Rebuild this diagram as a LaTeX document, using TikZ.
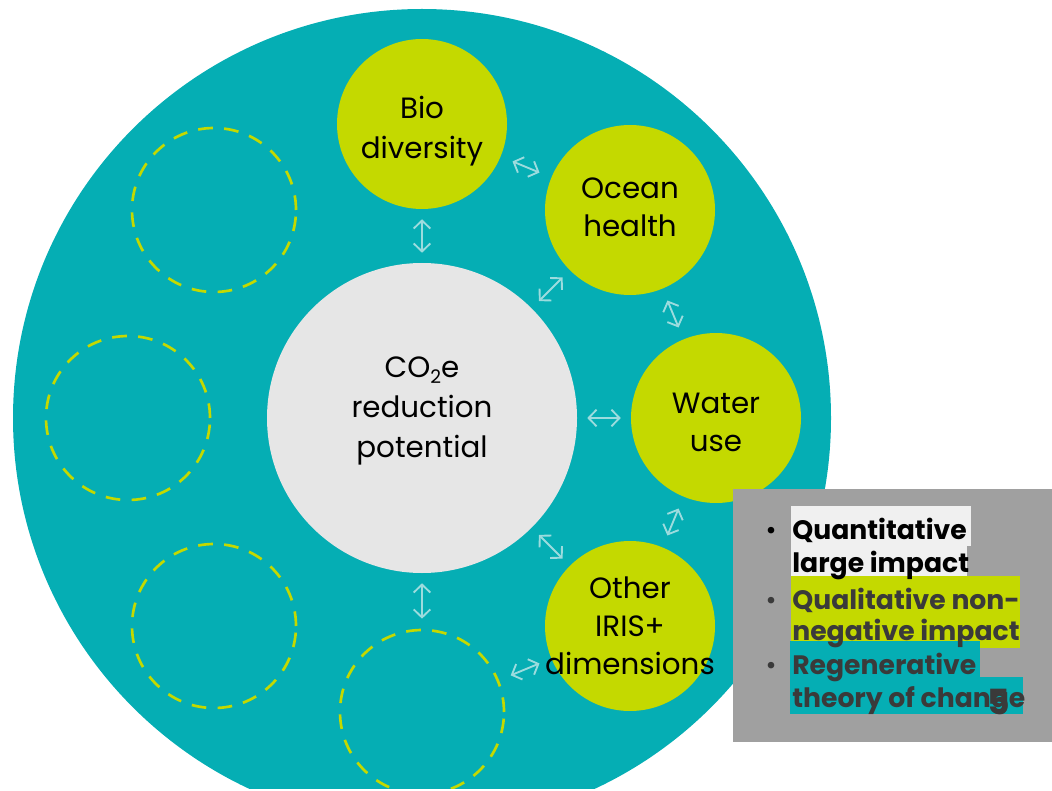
\documentclass[tikz,border=0pt]{standalone}
\usepackage{fontspec}
\setmainfont{Poppins}
\usetikzlibrary{arrows.meta}

\definecolor{ringTeal}{HTML}{05AEB4}
\definecolor{limeC}{HTML}{C4D900}
\definecolor{coreGrey}{HTML}{E6E6E6}
\definecolor{arrowC}{HTML}{9CDCDE}
\definecolor{legendGrey}{HTML}{A0A0A0}
\definecolor{hlLight}{HTML}{F0F0F0}
\definecolor{darkText}{HTML}{3A3A3A}

\begin{document}
\begin{tikzpicture}[x=0.75pt,y=-0.75pt,
  core/.style={circle, fill=coreGrey, minimum size=232.5pt, inner sep=0pt},
  ringnode/.style={circle, fill=limeC, minimum size=127.5pt, inner sep=0pt},
  ringtext/.style={align=center, inner sep=0pt, text=black,
    font=\fontsize{22}{28.5}\selectfont},
  coretext/.style={ringtext, font=\fontsize{22}{30}\selectfont},
  openslot/.style={circle, draw=limeC, line width=2pt,
    dash pattern=on 11pt off 8.5pt, minimum size=123pt, inner sep=0pt},
  link/.style={draw=arrowC, line width=1.4pt,
    {Straight Barb[length=6pt,width=12.5pt]}-{Straight Barb[length=6pt,width=12.5pt]}},
  spoke/.style={link, shorten <=7.5pt, shorten >=7.5pt},
  ringlink/.style={link, shorten <=9.5pt, shorten >=9.5pt},
  legendline/.style={anchor=base west, inner sep=0pt,
    font=\bfseries\fontsize{20}{24}\selectfont},
  bullet/.style={anchor=base, inner sep=0pt, font=\fontsize{20}{24}\selectfont},
]
\useasboundingbox (0,0) rectangle (1052,791);

\begin{scope}
  \clip (0,0) rectangle (1052,788);
  % outer disc
  \fill[ringTeal] (422,418) circle[radius=409];

  % centre
  \node[core] (co2) at (422,418) {};
  \node[coretext] (co2t) at (422,411)
    {CO\raisebox{-0.35ex}{\fontsize{14}{14}\selectfont 2}e\\reduction\\potential};

  % filled dimensions
  \node[ringnode] (bio)   at (422,124) {};
  \node[ringnode] (ocean) at (630,210) {};
  \node[ringnode] (water) at (716,418) {};
  \node[ringnode] (other) at (630,626) {};
  \node[ringtext, font=\fontsize{22}{30}\selectfont] (biot) at (422,131) {Bio\\diversity};
  \node[ringtext] (oceant) at (630,207) {Ocean\\health};
  \node[ringtext] (watert) at (716,422) {Water\\use};
  \node[ringtext] (othert) at (630,626) {Other\\IRIS+\\dimensions};

  % empty slots
  \node[openslot] (s135) at (214,210) {};
  \node[openslot] (s180) at (128,418) {};
  \node[openslot] (s225) at (214,626) {};
  \node[openslot] (s270) at (422,712) {};

  % spokes from the centre
  \draw[spoke] (co2) -- (bio);
  \draw[spoke] (co2) -- (ocean);
  \draw[spoke] (co2) -- (water);
  \draw[spoke] (co2) -- (other);
  \draw[spoke] (co2) -- (s270);

  % links around the ring
  \draw[ringlink] (bio) -- (ocean);
  \draw[ringlink] (ocean) -- (water);
  \draw[ringlink] (water) -- (other);
  \draw[ringlink] (other) -- (s270);
\end{scope}

% legend panel
\fill[legendGrey] (733,489) rectangle (1052,742);
\fill[hlLight] (791,506) rectangle (971,546);
\fill[hlLight] (791,546) rectangle (967,576);
\fill[limeC] (791,576) rectangle (1020,648);
\fill[ringTeal] (790,641) rectangle (980,677);
\fill[ringTeal] (790,677) rectangle (1023,714);

\node[bullet, text=black]    (b1) at (771,539) {•};
\node[bullet, text=darkText] (b2) at (771,609) {•};
\node[bullet, text=darkText] (b3) at (771,674) {•};

\node[legendline, text=black]    (l1a) at (792,539) {Quantitative};
\node[legendline, text=black]    (l1b) at (792,572) {large impact};
\node[legendline, text=darkText] (l2a) at (792,609) {Qualitative non-};
\node[legendline, text=darkText] (l2b) at (792,640) {negative impact};
\node[legendline, text=darkText] (l3a) at (792,674) {Regenerative};
\node[legendline, text=darkText] (l3b) at (792,707) {theory of change};
\node[anchor=base, inner sep=0pt, text=darkText,
      font=\bfseries\fontsize{26}{26}\selectfont] (pg) at (999,714) {5};
\end{tikzpicture}
\end{document}
